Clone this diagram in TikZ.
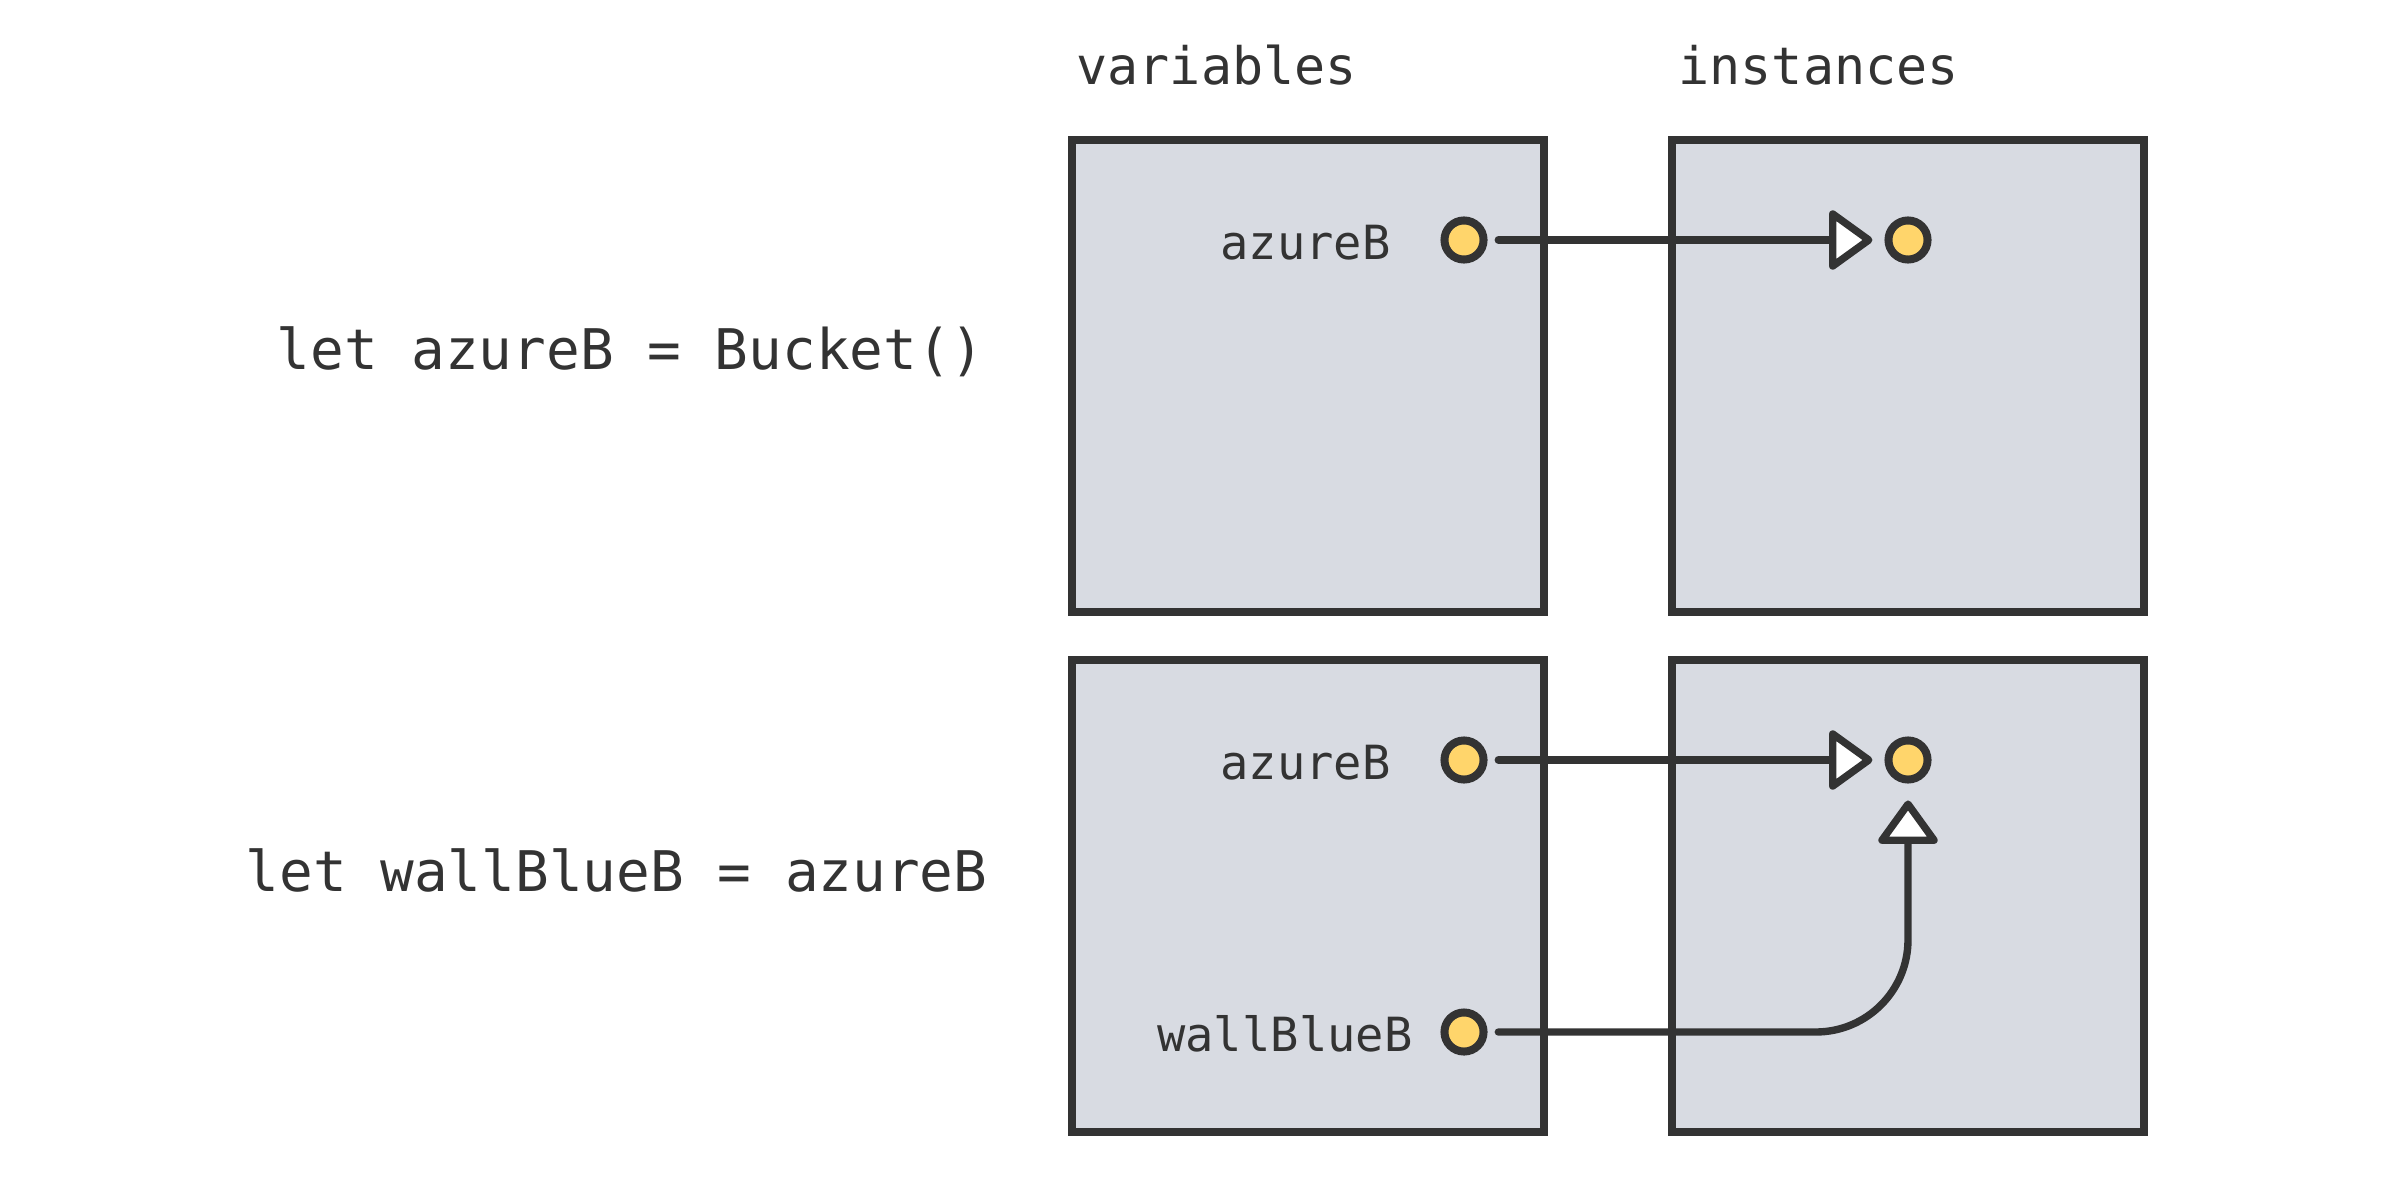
\documentclass[tikz,border=0pt]{standalone}
\usepackage{fontspec}
\setmonofont{DejaVu Sans Mono}
\usetikzlibrary{arrows.meta}
\definecolor{ink}{HTML}{333333}
\definecolor{boxfill}{HTML}{D8DBE2}
\definecolor{dotfill}{HTML}{FFD56B}
\begin{document}
\begin{tikzpicture}[x=0.325bp,y=-0.325bp,
  panel/.style={draw=ink, fill=boxfill, line width=2.6bp},
  dot/.style={circle, draw=ink, fill=dotfill, line width=2.6bp, minimum size=12.7bp, inner sep=0pt},
  codetext/.style={font=\ttfamily\fontsize{18.2bp}{20bp}\selectfont, text=ink, inner sep=0pt},
  headtext/.style={font=\ttfamily\fontsize{16.8bp}{19bp}\selectfont, text=ink, inner sep=0pt},
  vartext/.style={font=\ttfamily\fontsize{15.3bp}{18bp}\selectfont, text=ink, inner sep=0pt},
  ref/.style={draw=ink, line width=2.4bp, line cap=round,
    -{Triangle[width=21bp, length=15bp, open, fill=white, round]},
    shorten <=3.5bp, shorten >=3.9bp}]
\useasboundingbox (0,0) rectangle (2400,1200);
% headers
\node[headtext, anchor=base west] (hv) at (1076,84) {variables};
\node[headtext, anchor=base west] (hi) at (1678,84) {instances};
% code lines
\node[codetext, anchor=base west] (c1) at (276,369) {let azureB = Bucket()};
\node[codetext, anchor=base west] (c2) at (245,891) {let wallBlueB = azureB};
% panels
\draw[panel] (1072,140) rectangle (1544,612);
\draw[panel] (1672,140) rectangle (2144,612);
\draw[panel] (1072,660) rectangle (1544,1132);
\draw[panel] (1672,660) rectangle (2144,1132);
% top row
\node[dot] (v1) at (1464,240) {};
\node[dot] (i1) at (1908,240) {};
\node[vartext, anchor=base east] (l1) at (1391,259) {azureB};
\draw[ref] (v1) -- (i1);
% bottom row
\node[dot] (v2) at (1464,760) {};
\node[dot] (i2) at (1908,760) {};
\node[dot] (v3) at (1464,1032) {};
\node[vartext, anchor=base east] (l2) at (1391,779) {azureB};
\node[vartext, anchor=base east] (l3) at (1413,1051) {wallBlueB};
\draw[ref] (v2) -- (i2);
\draw[ref, rounded corners=30bp, shorten >=5.5bp] (v3) -- (v3 -| i2) -- (i2);
\end{tikzpicture}
\end{document}
